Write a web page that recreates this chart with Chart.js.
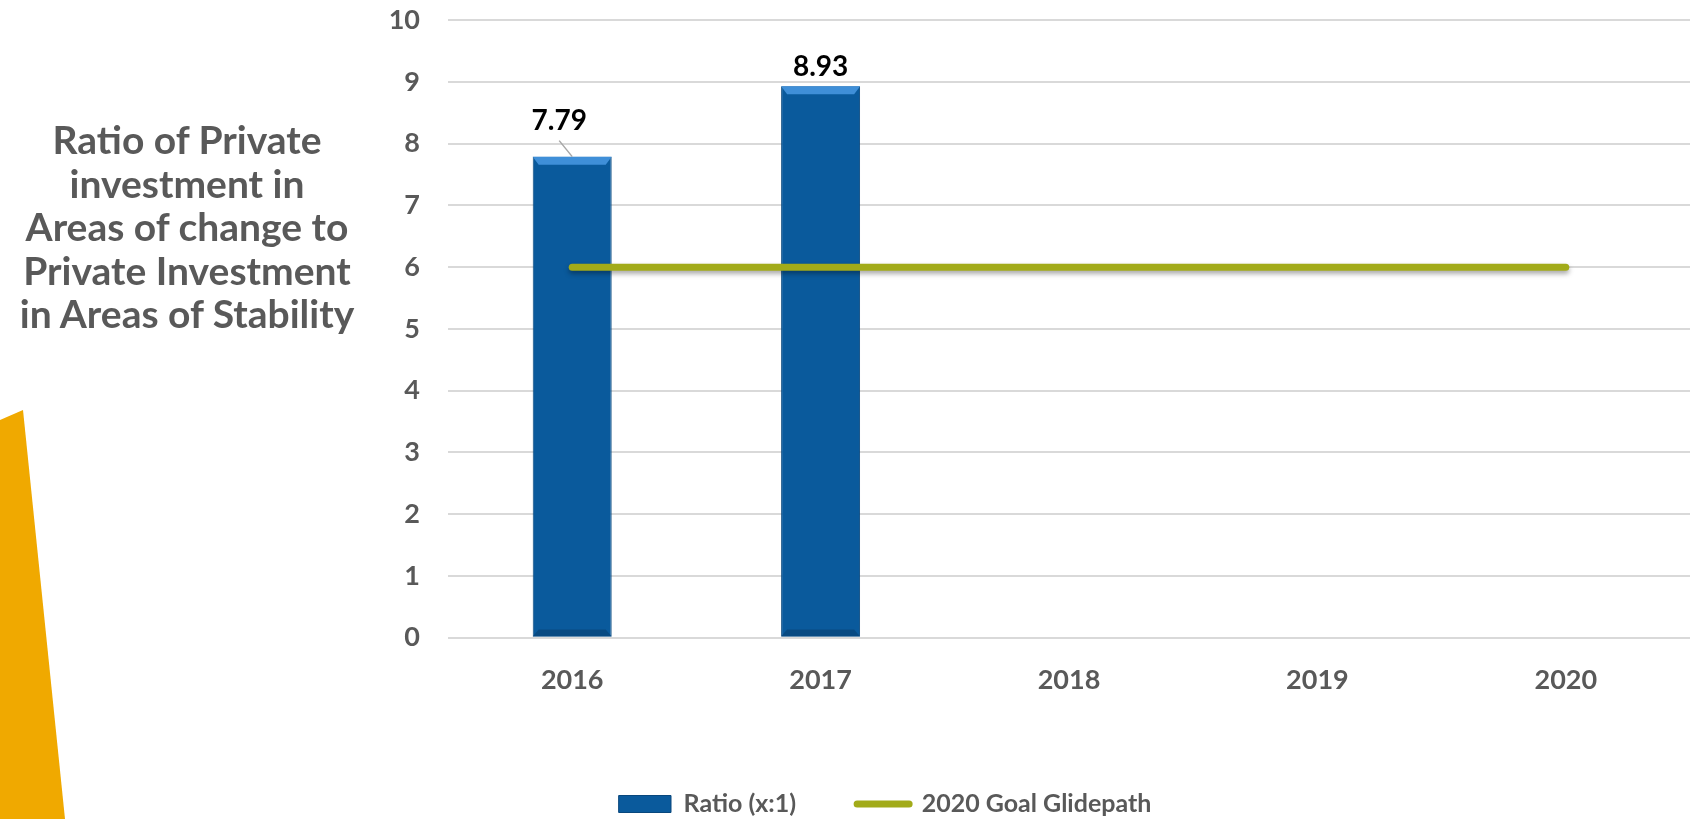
<!DOCTYPE html>
<html>
<head>
<meta charset="utf-8">
<script src="https://cdn.jsdelivr.net/npm/chart.js@4.4.1/dist/chart.umd.min.js"></script>
<style>
  html, body { margin: 0; padding: 0; background: #fff; }
  #wrap { position: relative; width: 1690px; height: 819px; overflow: hidden; }
  #chart { position: absolute; left: 0; top: 0; }
  #sideTitle {
    position: absolute; left: 0; top: 118px; width: 374px;
    text-align: center; font: bold 39px Lato, sans-serif; line-height: 43.5px; color: #595959;
    white-space: nowrap;
  }
  #swoosh {
    position: absolute; left: 0; top: 400px; width: 70px; height: 419px; background: #f0a900;
    clip-path: polygon(0 20px, 23px 10px, 65px 419px, 0 419px);
  }
</style>
</head>
<body>
<div id="wrap">
  <div id="swoosh"></div>
  <canvas id="chart" width="1690" height="819"></canvas>
  <div id="sideTitle">Ratio of Private<br>investment in<br>Areas of change to<br>Private Investment<br>in Areas of Stability</div>
</div>
<script>
/* ── Data ─────────────────────────────────────── */
const years = ['2016', '2017', '2018', '2019', '2020'];
const ratioValues = [7.79, 8.93, null, null, null];
const goalValues = [6, 6, 6, 6, 6];
const yTicks = [0, 1, 2, 3, 4, 5, 6, 7, 8, 9, 10];

const BLUE = '#0a5a9c';
const OLIVE = '#a2ab19';
const GREY = '#595959';
const FONT = 'Lato, sans-serif';

/* ── Bar labels (7.79 sits off to the side with a leader line) ── */
const barLabels = {
  id: 'barLabels',
  afterDatasetsDraw(chart, args, opts) {
    const meta = chart.getDatasetMeta(0);
    const ctx = chart.ctx;
    ctx.save();
    ctx.font = 'bold 28px ' + FONT;
    ctx.fillStyle = '#000';
    ctx.textAlign = 'center';
    ctx.textBaseline = 'middle';
    meta.data.forEach((bar, i) => {
      const v = ratioValues[i];
      if (v == null) return;
      const [dx, dy] = opts.shift[i] || [0, -20];
      ctx.fillText(v.toFixed(2), bar.x + dx, bar.y + dy);
      if (opts.leader[i]) {
        ctx.strokeStyle = '#a6a6a6';
        ctx.lineWidth = 1.5;
        ctx.beginPath();
        ctx.moveTo(bar.x + dx, bar.y + dy + 20);
        ctx.lineTo(bar.x, bar.y);
        ctx.stroke();
      }
    });
    ctx.restore();
  }
};

/* ── Bevel on top of the bars ─────────────────── */
const bevel = {
  id: 'bevel',
  afterDatasetDraw(chart, args) {
    if (args.index !== 0) return;
    const ctx = chart.ctx;
    ctx.save();
    args.meta.data.forEach((bar, i) => {
      if (ratioValues[i] == null) return;
      const l = bar.x - bar.width / 2, r = bar.x + bar.width / 2, t = bar.y, b = bar.base;
      ctx.fillStyle = '#3f8fd8';
      ctx.beginPath();
      ctx.moveTo(l, t); ctx.lineTo(r, t); ctx.lineTo(r - 6, t + 8); ctx.lineTo(l + 6, t + 8); ctx.closePath();
      ctx.fill();
      ctx.fillStyle = '#084a82';
      ctx.beginPath();
      ctx.moveTo(l, b); ctx.lineTo(r, b); ctx.lineTo(r - 6, b - 7); ctx.lineTo(l + 6, b - 7); ctx.closePath();
      ctx.fill();
    });
    ctx.restore();
  }
};

/* ── Shadow under the goal line ───────────────── */
const lineShadow = {
  id: 'lineShadow',
  beforeDatasetDraw(chart, args) {
    if (args.index !== 1) return;
    const ctx = chart.ctx;
    ctx.save();
    ctx.shadowColor = 'rgba(0,0,0,0.35)';
    ctx.shadowBlur = 5;
    ctx.shadowOffsetY = 3;
  },
  afterDatasetDraw(chart, args) {
    if (args.index !== 1) return;
    chart.ctx.restore();
  }
};

/* ── Legend placement ─────────────────────────── */
const legendPlace = {
  id: 'legendPlace',
  afterLayout(chart, args, opts) {
    const lg = chart.legend;
    const pad = lg.options.labels.padding;
    const w = lg.width, h = lg.height;
    lg.left = opts.x - pad; lg.right = lg.left + w;
    lg.top = opts.y - 12.5 - pad; lg.bottom = lg.top + h;
  }
};

new Chart(document.getElementById('chart'), {
  type: 'bar',
  data: {
    labels: years,
    datasets: [
      {
        label: 'Ratio (x:1)', data: ratioValues, order: 1,
        backgroundColor: BLUE, borderColor: '#08477d', borderWidth: 1,
        categoryPercentage: 1, barPercentage: 0.318
      },
      {
        type: 'line', label: '2020 Goal Glidepath', data: goalValues, order: 0,
        borderColor: OLIVE, backgroundColor: OLIVE, borderWidth: 7,
        borderCapStyle: 'round', pointRadius: 0, pointHoverRadius: 0, tension: 0
      }
    ]
  },
  options: {
    responsive: false,
    animation: false,
    layout: { padding: { left: 0, right: 0, top: 0, bottom: 9 } },
    scales: {
      x: {
        grid: { display: false },
        border: { display: false },
        ticks: { color: GREY, font: { family: FONT, size: 27, weight: 'bold' }, padding: 18 }
      },
      y: {
        min: 0, max: 10,
        afterBuildTicks: s => { s.ticks = yTicks.map(v => ({ value: v })); },
        afterFit: s => { s.width = 448; },
        grid: { color: '#d9d9d9', lineWidth: 2, drawTicks: true, tickLength: 24, tickColor: 'rgba(0,0,0,0)' },
        border: { display: false },
        ticks: { color: GREY, font: { family: FONT, size: 27, weight: 'bold' }, padding: 4 }
      }
    },
    plugins: {
      tooltip: { enabled: false },
      legend: {
        position: 'bottom', align: 'start',
        labels: {
          color: GREY, font: { family: FONT, size: 25, weight: 'bold' },
          padding: 61, usePointStyle: true, pointStyleWidth: 52, boxHeight: 17,
          generateLabels: chart => chart.data.datasets.map((ds, i) => ({
            text: ds.label, datasetIndex: i,
            fillStyle: i === 0 ? BLUE : OLIVE,
            strokeStyle: i === 0 ? '#08477d' : OLIVE,
            lineWidth: i === 0 ? 1 : 7,
            lineCap: 'round',
            pointStyle: i === 0 ? 'rect' : 'line',
            fontColor: GREY
          }))
        }
      },
      legendPlace: { x: 619, y: 804 },
      barLabels: { shift: [[-13, -36], [0, -19]], leader: [true, false] }
    }
  },
  plugins: [lineShadow, bevel, barLabels, legendPlace]
});
</script>
</body>
</html>
